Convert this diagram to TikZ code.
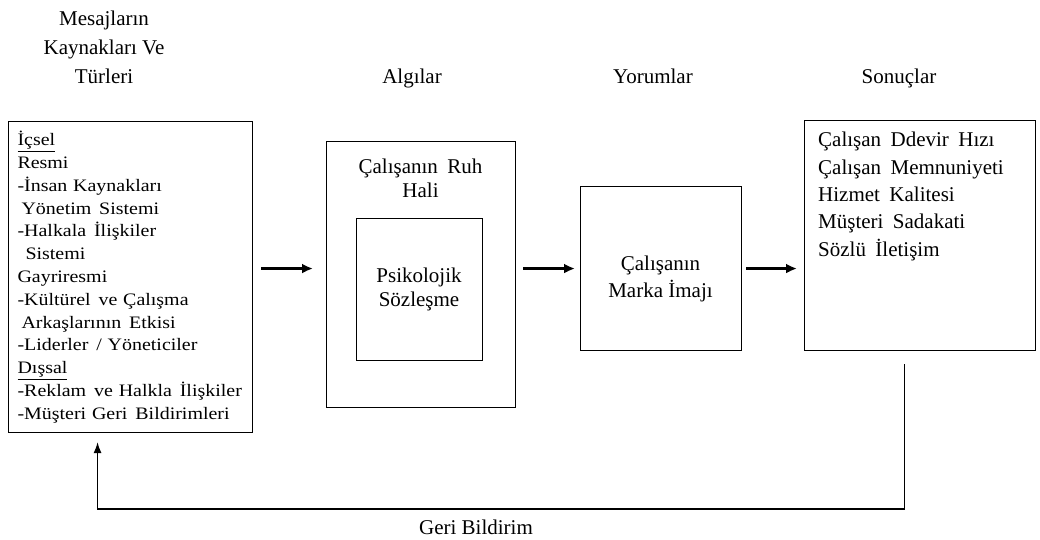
\documentclass[tikz,border=0pt]{standalone}
\usepackage{fontspec}
\setmainfont{Liberation Serif}
% slightly widened face for the long list of message sources
\newfontfamily\widefont{Liberation Serif}[FakeStretch=1.14]
\usetikzlibrary{arrows.meta}
% wide word gap used in the box texts
\newcommand\dsp{\hspace{0.45em}}
\begin{document}
\begin{tikzpicture}[x=1bp,y=-1bp,
  box/.style={draw, line width=1.1bp, inner sep=0pt},
  head/.style={font=\fontsize{21bp}{29bp}\selectfont, align=center, inner sep=0pt},
  btext/.style={font=\fontsize{21bp}{24bp}\selectfont, align=center, inner sep=0pt},
  flow/.style={line width=2.4bp, -{Latex[length=11bp,width=10bp]}},
  back/.style={line width=1.3bp, -{Latex[length=11bp,width=8bp]}}
]
\useasboundingbox (0,0) rectangle (1040,540);

% column headings
\node[head] (hsrc) at (104,47) {Mesajların\\Kaynakları Ve\\Türleri};
\node[head, anchor=base] (halg) at (412,83.5) {Algılar};
\node[head, anchor=base] (hyor) at (653,83.5) {Yorumlar};
\node[head, anchor=base] (hson) at (899,83.5) {Sonuçlar};

% sources and types of messages
\node[box, anchor=north west, minimum width=244bp, minimum height=311bp,
      text width=226bp, inner xsep=9bp, align=left,
      font=\widefont\fontsize{17.5bp}{22.8bp}\selectfont] (src) at (8,121)
{\underline{İçsel}\\
Resmi\\
-İnsan Kaynakları\\
\hspace{4bp}Yönetim\dsp Sistemi\\
-Halkala\dsp İlişkiler\\
\hspace{8bp}Sistemi\\
Gayriresmi\\
-Kültürel\dsp ve Çalışma\\
\hspace{4bp}Arkaşlarının\dsp Etkisi\\
-Liderler\dsp / Yöneticiler\\
\underline{Dışsal}\\
-Reklam\dsp ve Halkla\dsp İlişkiler\\
-Müşteri Geri\dsp Bildirimleri};

% perceptions
\node[box, anchor=north west, minimum width=189bp, minimum height=266bp] (alg) at (326,141) {};
\node[btext] (algtxt) at (420.5,178.5) {Çalışanın\dsp Ruh\\Hali};
\node[box, anchor=north west, minimum width=126bp, minimum height=142bp] (psy) at (356,218) {};
\node[btext] (psytxt) at (419,289) {Psikolojik\\Sözleşme};

% interpretations
\node[box, anchor=north west, minimum width=161bp, minimum height=164bp] (img) at (580,186) {};
\node[btext, font=\fontsize{21bp}{27bp}\selectfont] (imgtxt) at (660.5,279) {Çalışanın\\Marka İmajı};

% results
\node[box, anchor=north west, minimum width=231bp, minimum height=230bp] (res) at (804,120) {};
\node[anchor=north west, align=left, inner sep=0pt,
      font=\fontsize{21bp}{27.4bp}\selectfont] (restxt) at (818,132)
{Çalışan\dsp Ddevir\dsp Hızı\\
Çalışan\dsp Memnuniyeti\\
Hizmet\dsp Kalitesi\\
Müşteri\dsp Sadakati\\
Sözlü\dsp İletişim};

% forward flow
\draw[flow, shorten <=8bp, shorten >=13bp] ([yshift=8.5bp]src.east) -- ([yshift=8.5bp]src.east -| alg.west);
\draw[flow, shorten <=7bp, shorten >=5bp] (alg.east |- img.west) -- (img.west);
\draw[flow, shorten <=4bp, shorten >=7bp] (img.east) -- (img.east -| res.west);

% feedback loop
\coordinate (fbline) at (500,509);
\draw[back, shorten <=13bp, shorten >=9bp] ([xshift=-15.5bp]res.south) |- (fbline) -| ([xshift=-33bp]src.south);
\node[head] (fbtxt) at (476,527) {Geri Bildirim};
\end{tikzpicture}
\end{document}
